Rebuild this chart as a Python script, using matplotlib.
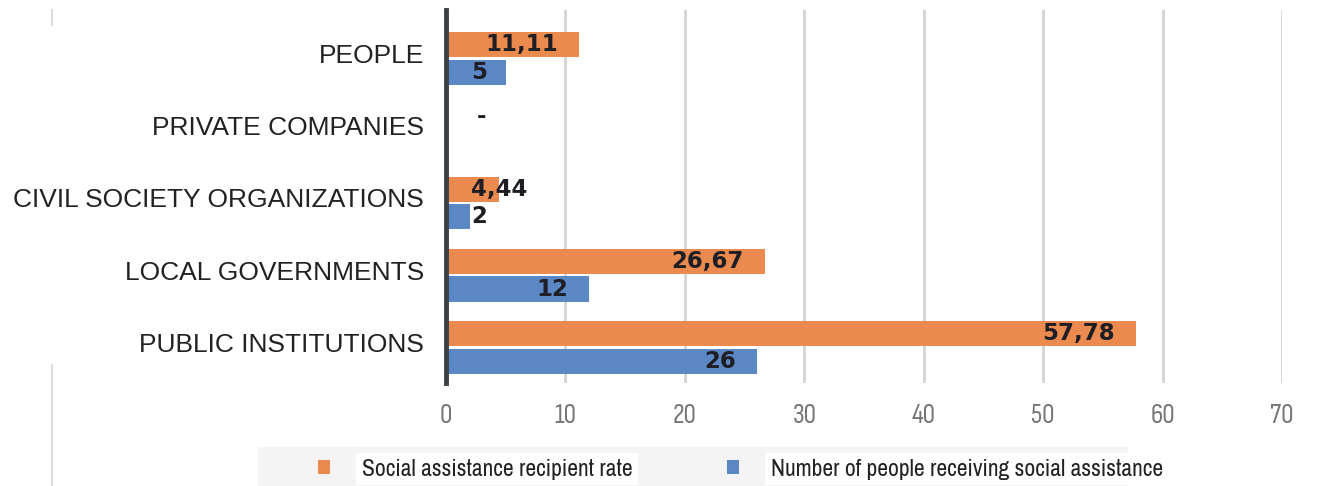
import matplotlib
matplotlib.use("Agg")
import matplotlib.pyplot as plt
from matplotlib.patches import Patch, Rectangle
from matplotlib.lines import Line2D
import numpy as np

categories = ["PEOPLE", "PRIVATE COMPANIES", "CIVIL SOCIETY ORGANIZATIONS",
              "LOCAL GOVERNMENTS", "PUBLIC INSTITUTIONS"]
rate = [11.11, 0.0, 4.44, 26.67, 57.78]
count = [5, 0, 2, 12, 26]
rate_labels = ["11,11", "-", "4,44", "26,67", "57,78"]
count_labels = ["5", "", "2", "12", "26"]
series_names = ["Social assistance recipient rate",
                "Number of people receiving social assistance"]
xticks = [0, 10, 20, 30, 40, 50, 60, 70]

ORANGE = "#EA8A4E"
BLUE = "#5B87C5"

W, H = 1332, 486
fig = plt.figure(figsize=(W / 100, H / 100), dpi=100)
ax = fig.add_axes([446 / W, 1 - 383 / H, (1282 - 446) / W, (383 - 10) / H])

n = len(categories)
pos = np.arange(n)[::-1].astype(float)  # first category on top
bh = 0.35
off = 0.19

ax.barh(pos + off, rate, height=bh, color=ORANGE, zorder=3)
ax.barh(pos - off, count, height=bh, color=BLUE, zorder=3)

ax.set_xlim(0, 70)
ax.set_ylim(-0.49, n - 1 + 0.67)
ax.set_xticks(xticks)
ax.set_xticklabels([str(t) for t in xticks])
ax.grid(axis="x", color="#d4d4d4", linewidth=2, zorder=0)
ax.set_axisbelow(True)

for s in ["top", "right", "bottom"]:
    ax.spines[s].set_visible(False)
ax.spines["left"].set_color("#3b4049")
ax.spines["left"].set_linewidth(3.5)
ax.spines["left"].set_zorder(5)

ax.tick_params(axis="x", length=0, pad=15, labelsize=20, labelcolor="#767676")
for lab in ax.get_xticklabels():
    lab.set_family(["Sofia Sans Condensed", "DejaVu Sans"])
    lab.set_fontweight("light")
ax.set_yticks(pos + 0.07)
ax.set_yticklabels(categories, fontsize=19, color="#222222",
                   family=["Liberation Sans", "DejaVu Sans"])
ax.tick_params(axis="y", length=0, pad=16)

# value labels: inside the bar end, pushed right when the bar is too short
texts = []
for p, v, t in zip(pos + off, rate, rate_labels):
    if t:
        texts.append((ax.text(v, p, t, ha="right", va="center", fontsize=16.5,
                              fontweight="bold", color="#1e1e24",
                              family="DejaVu Sans", zorder=6), v))
for p, v, t in zip(pos - off, count, count_labels):
    if t:
        texts.append((ax.text(v, p, t, ha="right", va="center", fontsize=16.5,
                              fontweight="bold", color="#1e1e24",
                              family="DejaVu Sans", zorder=6), v))

fig.canvas.draw()
renderer = fig.canvas.get_renderer()
x0_px = ax.transData.transform((0, 0))[0]
for txt, v in texts:
    w = txt.get_window_extent(renderer).width
    end_px = ax.transData.transform((v, 0))[0]
    right = end_px - 21
    left = right - w
    if left < x0_px + 25:
        left = x0_px + 25 + (6 if v == 0 else 0)
    xd = ax.transData.inverted().transform((left, 0))[0]
    txt.set_x(xd)
    txt.set_ha("left")

# legend strip
fig.add_artist(Rectangle((258 / W, 0), (1128 - 258) / W, (486 - 447) / H,
                         transform=fig.transFigure, facecolor="#f4f4f4",
                         edgecolor="none", zorder=0))
handles = [Patch(facecolor=ORANGE, edgecolor="none"),
           Patch(facecolor=BLUE, edgecolor="none")]
leg = fig.legend(handles, series_names, loc="center left",
                 bbox_to_anchor=(309 / W, 1 - 469 / H), ncol=2, frameon=False,
                 handlelength=0.5, handleheight=0.5, handletextpad=1.35,
                 columnspacing=4.0, borderaxespad=0,
                 prop={"family": ["Archivo Narrow", "DejaVu Sans"], "size": 17})
for t in leg.get_texts():
    t.set_color("#222222")
    t.set_bbox(dict(facecolor="white", edgecolor="none", pad=4))

# thin separator lines on the left margin
fig.add_artist(Line2D([52 / W, 52 / W], [1 - 10 / H, 1 - 25 / H],
                      transform=fig.transFigure, color="#dcdcdc", linewidth=1.5))
fig.add_artist(Line2D([52 / W, 52 / W], [1 - 365 / H, 0],
                      transform=fig.transFigure, color="#dcdcdc", linewidth=1.5))

fig.savefig("out.png", dpi=100)
